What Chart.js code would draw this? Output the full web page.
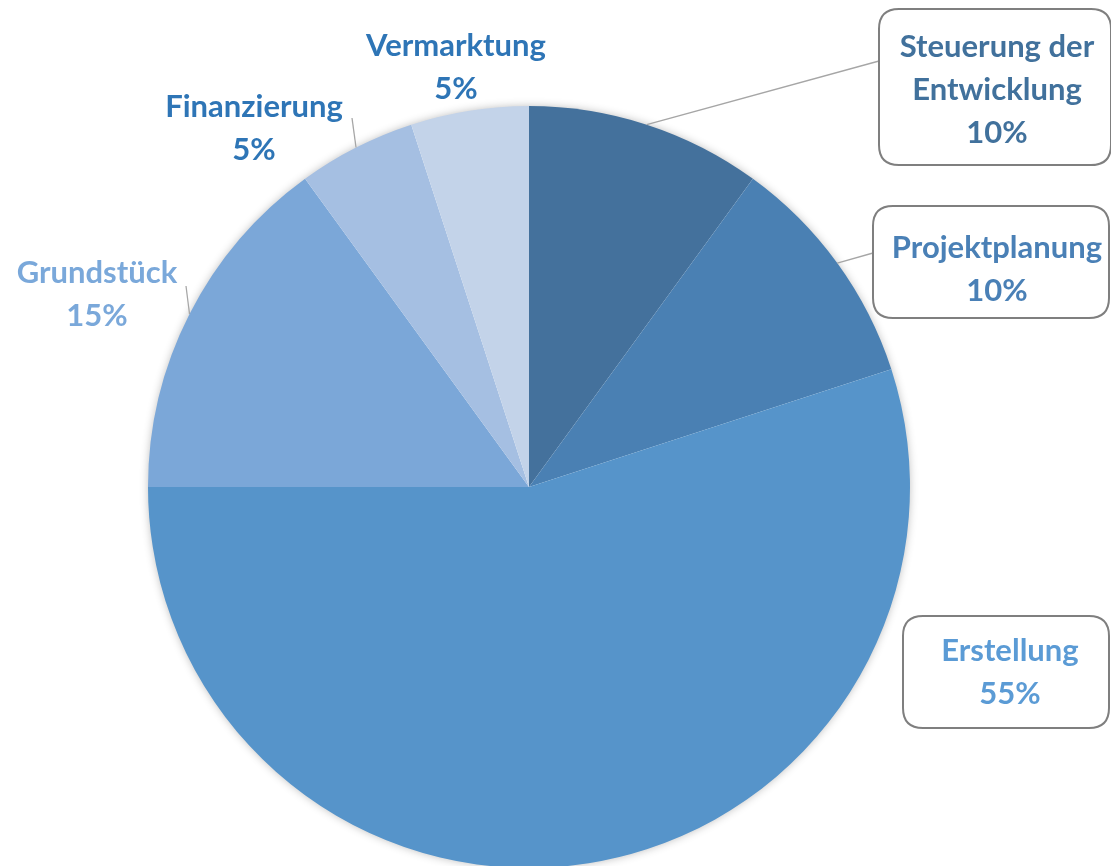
<!DOCTYPE html>
<html>
<head>
<meta charset="utf-8">
<script src="https://cdn.jsdelivr.net/npm/chart.js@4/dist/chart.umd.min.js"></script>
<style>
  html, body { margin: 0; padding: 0; background: #fff; overflow: hidden; }
  #wrap { position: relative; width: 1111px; height: 900px; }
</style>
</head>
<body>
<div id="wrap"><canvas id="pie"></canvas></div>
<script>
var categories = ["Steuerung der Entwicklung", "Projektplanung", "Erstellung", "Grundstück", "Finanzierung", "Vermarktung"];
var shares = [10, 10, 55, 15, 5, 5];
var sliceColors = ["#44719c", "#4a80b3", "#5694ca", "#7ba7d8", "#a5bfe2", "#c3d3e9"];
var labelColors = ["#41719c", "#4a80b6", "#5b9bd5", "#7aa8da", "#2e75b6", "#2e75b6"];
var labelLines = [["Steuerung der", "Entwicklung"], ["Projektplanung"], ["Erstellung"], ["Grundstück"], ["Finanzierung"], ["Vermarktung"]];

// where each label sits, and where its leader line ends (null = no line)
var labelPos = [
  { x: 997, y: 47, box: [879, 9, 232, 156], end: [879, 61] },
  { x: 997, y: 248, box: [873, 206, 236, 112], end: [873, 253] },
  { x: 1010, y: 651, box: [903, 616, 206, 112], end: null },
  { x: 97, y: 273, box: null, end: [186, 286] },
  { x: 254, y: 107, box: null, end: [352, 118] },
  { x: 456, y: 46, box: null, end: null }
];

function roundRect(ctx, x, y, w, h, r) {
  ctx.beginPath();
  ctx.moveTo(x + r, y);
  ctx.lineTo(x + w - r, y);
  ctx.quadraticCurveTo(x + w, y, x + w, y + r);
  ctx.lineTo(x + w, y + h - r);
  ctx.quadraticCurveTo(x + w, y + h, x + w - r, y + h);
  ctx.lineTo(x + r, y + h);
  ctx.quadraticCurveTo(x, y + h, x, y + h - r);
  ctx.lineTo(x, y + r);
  ctx.quadraticCurveTo(x, y, x + r, y);
  ctx.closePath();
}

// one soft shadow behind the whole pie
var shadowPlugin = {
  id: "pieShadow",
  beforeDatasetsDraw: function (chart) {
    var arc = chart.getDatasetMeta(0).data[0];
    if (!arc) return;
    var ctx = chart.ctx;
    ctx.save();
    ctx.shadowColor = "rgba(0,0,0,0.3)";
    ctx.shadowBlur = 10;
    ctx.fillStyle = "#ffffff";
    ctx.beginPath();
    ctx.arc(arc.x, arc.y, arc.outerRadius - 1, 0, Math.PI * 2);
    ctx.fill();
    ctx.restore();
  }
};

var calloutPlugin = {
  id: "callouts",
  afterDatasetsDraw: function (chart) {
    var ctx = chart.ctx;
    var arcs = chart.getDatasetMeta(0).data;
    ctx.save();
    arcs.forEach(function (arc, i) {
      var p = labelPos[i];
      var mid = (arc.startAngle + arc.endAngle) / 2;
      var sx = arc.x + Math.cos(mid) * arc.outerRadius;
      var sy = arc.y + Math.sin(mid) * arc.outerRadius;
      if (p.end) {
        ctx.strokeStyle = "#a6a6a6";
        ctx.lineWidth = 1.3;
        ctx.beginPath();
        ctx.moveTo(sx, sy);
        ctx.lineTo(p.end[0], p.end[1]);
        ctx.stroke();
      }
      if (p.box) {
        roundRect(ctx, p.box[0], p.box[1], p.box[2], p.box[3], 20);
        ctx.fillStyle = "#ffffff";
        ctx.fill();
        ctx.strokeStyle = "#7f7f7f";
        ctx.lineWidth = 2;
        ctx.stroke();
      }
      ctx.fillStyle = labelColors[i];
      ctx.font = "bold 31px Lato, 'Open Sans', sans-serif";
      ctx.textAlign = "center";
      ctx.textBaseline = "middle";
      var lines = labelLines[i].concat([shares[i] + "%"]);
      lines.forEach(function (t, k) {
        ctx.fillText(t, p.x, p.y + k * 43);
      });
    });
    ctx.restore();
  }
};

var ctx = document.getElementById("pie").getContext("2d");
var pieChart = new Chart(ctx, {
  type: "pie",
  data: {
    labels: categories,
    datasets: [{
      data: shares,
      backgroundColor: sliceColors,
      borderWidth: 0
    }]
  },
  options: {
    responsive: true,
    maintainAspectRatio: false,
    animation: false,
    layout: { padding: { left: 148, right: 201, top: 106, bottom: 32 } },
    plugins: {
      legend: { display: false },
      tooltip: { enabled: false }
    }
  },
  plugins: [shadowPlugin, calloutPlugin]
});
</script>
</body>
</html>
